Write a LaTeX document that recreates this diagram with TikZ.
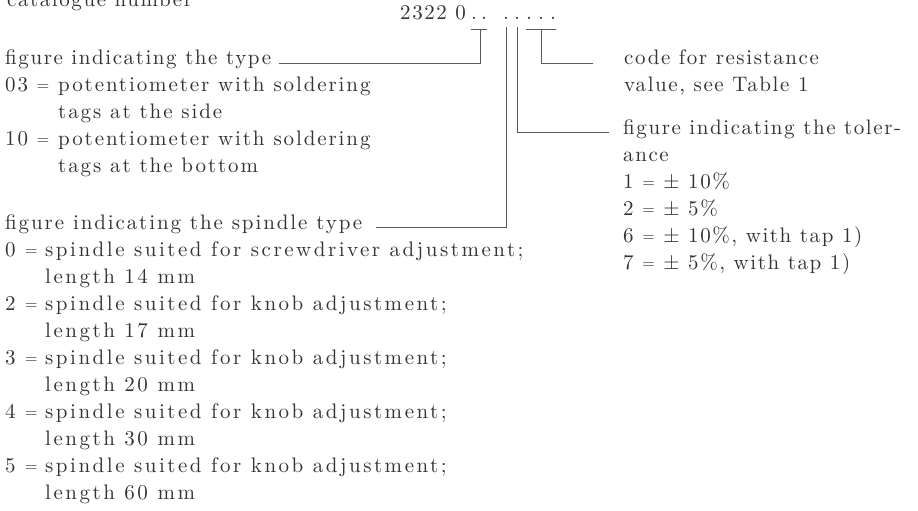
\documentclass[tikz,border=0pt]{standalone}
\usepackage{fontspec}
\setmainfont{lmroman10-regular.otf}[LetterSpace=7.5]
\newcommand\eqs{\raisebox{.05em}{\fontsize{16}{16}\selectfont =}}
\newcommand\wide[1]{\addfontfeatures{LetterSpace=#1}}
\begin{document}
\begin{tikzpicture}[x=1pt, y=-1pt,
    every node/.style={font=\fontsize{21}{27}\selectfont, text=black!80, inner sep=0pt},
    hd/.style={anchor=base west, text height=0.7em, text depth=0.3em},
    lst/.style={anchor=base west},
    numdot/.style={anchor=base},
    lead/.style={draw=black!65, line width=0.9pt}]
    \useasboundingbox (0,0) rectangle (918,511);

    % catalogue number and its digits
    \node[lst] (cat) at (7,6.5) {catalogue number};
    \node[lst] (num) at (400,20) {2322 0};
    \foreach \n/\x in {d1/474,d2/484,d3/506,d4/517,d5/529,d6/541,d7/553}
        \node[numdot] (\n) at (\x,20) {.};
    \coordinate (typetop) at (480,29);
    \coordinate (spintop) at (506,27);
    \coordinate (toltop) at (517,27);
    \coordinate (restop) at (541,29);

    % left column
    \node[hd] (typehd) at (5,65) {figure indicating the type};
    \node[lst] (typelst) at (5,92) {\wide{9}\begin{tabular}[t]{@{}l@{}l@{}}
        \makebox[53pt][l]{03 \eqs} & potentiometer with soldering\\
        & tags at the side\\
        \makebox[53pt][l]{10 \eqs} & potentiometer with soldering\\
        & tags at the bottom
    \end{tabular}};
    \node[hd, font=\fontsize{21}{27}\selectfont\wide{9}] (spinhd) at (5,229.5) {figure indicating the spindle type};
    \node[lst] (spinlst) at (5,256.5) {\wide{12}\begin{tabular}[t]{@{}l@{}l@{}}
        \makebox[40pt][l]{0 \eqs} & spindle suited for screwdriver adjustment;\\
        & length 14 mm\\
        \makebox[40pt][l]{2 \eqs} & spindle suited for knob adjustment;\\
        & length 17 mm\\
        \makebox[40pt][l]{3 \eqs} & spindle suited for knob adjustment;\\
        & length 20 mm\\
        \makebox[40pt][l]{4 \eqs} & spindle suited for knob adjustment;\\
        & length 30 mm\\
        \makebox[40pt][l]{5 \eqs} & spindle suited for knob adjustment;\\
        & length 60 mm
    \end{tabular}};

    % right column
    \node[hd] (reshd) at (624,65) {code for resistance};
    \node[lst] (resval) at (624,92) {value,\ see Table 1};
    \node[hd] (tolhd) at (623,134.5) {figure indicating the toler-};
    \node[lst] (tollst) at (623,161.5) {\begin{tabular}[t]{@{}l@{}}
        ance\\
        1 \eqs{} ± 10\%\\
        2 \eqs{} ± 5\%\\
        6 \eqs{} ± 10\%,\ with tap 1)\\
        7 \eqs{} ± 5\%,\ with tap 1)
    \end{tabular}};

    % brackets under the digits
    \draw[lead] (d1.west |- typetop) -- (d2.east |- typetop);
    \draw[lead] (d5.west |- restop) -- (d7.east |- restop);
    \draw[lead, shorten <=8pt] (typehd.east) -| (typetop);
    \draw[lead, shorten <=14pt] (spinhd.east) -| (spintop);
    \draw[lead, shorten >=14pt] (toltop) |- (tolhd.west);
    \draw[lead, shorten >=31pt] (restop) |- (reshd.west);
\end{tikzpicture}
\end{document}
